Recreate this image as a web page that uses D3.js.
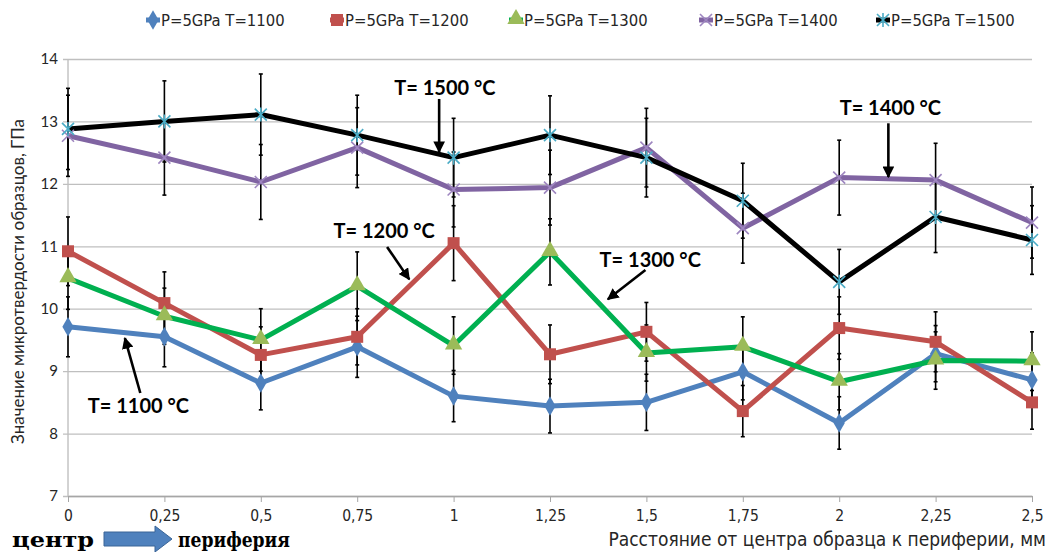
<!DOCTYPE html>
<html>
<head>
<meta charset="utf-8">
<script src="https://cdn.jsdelivr.net/npm/d3@7"></script>
<style>
  html, body { margin: 0; padding: 0; background: #fff; }
  svg { display: block; }
</style>
</head>
<body>
<div id="chart"></div>
<script>
// данные ----------------------------------------------------------------------
const categories = ['0', '0,25', '0,5', '0,75', '1', '1,25', '1,5', '1,75', '2', '2,25', '2,5'];
const seriesNames = ['P=5GPa T=1100', 'P=5GPa T=1200', 'P=5GPa T=1300', 'P=5GPa T=1400', 'P=5GPa T=1500'];
const t1100 = [9.71, 9.55, 8.81, 9.39, 8.60, 8.44, 8.50, 8.99, 8.17, 9.28, 8.86];
const t1200 = [10.92, 10.09, 9.26, 9.55, 11.05, 9.27, 9.63, 8.36, 9.69, 9.47, 8.50];
const t1300 = [10.49, 9.88, 9.50, 10.36, 9.41, 10.91, 9.29, 9.39, 8.83, 9.17, 9.16];
const t1400 = [12.77, 12.42, 12.03, 12.58, 11.91, 11.94, 12.58, 11.29, 12.10, 12.06, 11.38];
const t1500 = [12.88, 13.00, 13.11, 12.78, 12.42, 12.78, 12.42, 11.73, 10.43, 11.47, 11.10];
const err1100 = [0.48, 0.48, 0.43, 0.49, 0.41, 0.43, 0.45, 0.45, 0.42, 0.45, 0.43];
const err1200 = [0.55, 0.50, 0.45, 0.45, 0.60, 0.47, 0.47, 0.41, 0.50, 0.48, 0.43];
const err1300 = [0.50, 0.45, 0.50, 0.55, 0.46, 0.53, 0.45, 0.48, 0.45, 0.46, 0.47];
const err1400 = [0.65, 0.60, 0.60, 0.64, 0.60, 0.60, 0.63, 0.56, 0.60, 0.59, 0.57];
const err1500 = [0.65, 0.65, 0.65, 0.64, 0.63, 0.63, 0.63, 0.60, 0.52, 0.57, 0.55];
const yTicks = [7, 8, 9, 10, 11, 12, 13, 14];
// подписи: текст, центр (индекс категории, значение), начало и конец стрелки
const annoText = ['T= 1100 °C', 'T= 1200 °C', 'T= 1300 °C', 'T= 1400 °C', 'T= 1500 °C'];
const annoPos = [[0.73, 8.33], [3.28, 11.13], [6.04, 10.67], [8.53, 13.10], [3.91, 13.42]];
const arrowFrom = [[0.75, 8.65], [3.31, 10.99], [5.99, 10.62], [8.51, 12.97], [3.85, 13.36]];
const arrowTo = [[0.59, 9.53], [3.54, 10.47], [5.60, 10.15], [8.51, 12.11], [3.85, 12.51]];

// размеры ---------------------------------------------------------------------
const width = 1053, height = 552;
const margin = { top: 59, bottom: 56, left: 68, right: 21 };

const svg = d3.select('#chart').append('svg')
  .attr('width', width)
  .attr('height', height);

const x = d3.scalePoint().domain(categories).range([margin.left, width - margin.right]);
const xi = d3.scaleLinear().domain([0, categories.length - 1]).range([margin.left, width - margin.right]);
const y = d3.scaleLinear().domain([7, 14]).range([height - margin.bottom, margin.top]);

const series = [
  { name: seriesNames[0], values: t1100, err: err1100, line: '#4F81BD', mark: '#4F81BD', sym: 'diamond' },
  { name: seriesNames[1], values: t1200, err: err1200, line: '#C0504D', mark: '#C0504D', sym: 'square' },
  { name: seriesNames[2], values: t1300, err: err1300, line: '#00B050', mark: '#9BBB59', sym: 'triangle' },
  { name: seriesNames[3], values: t1400, err: err1400, line: '#8064A2', mark: '#9E86C0', sym: 'cross' },
  { name: seriesNames[4], values: t1500, err: err1500, line: '#000000', mark: '#4BACC6', sym: 'star' }
];

// сетка -----------------------------------------------------------------------
const axisY = d3.axisLeft(y).tickValues(yTicks).tickFormat(d3.format('d'));
const gY = svg.append('g')
  .attr('transform', 'translate(' + (margin.left) + ',0)')
  .call(axisY);
gY.select('.domain').attr('stroke', '#A6A6A6').attr('d', 'M0,' + y(14) + 'V' + y(7));
gY.selectAll('.tick line')
  .attr('x1', -5)
  .attr('x2', width - margin.left - margin.right)
  .attr('stroke', '#BFBFBF')
  .attr('stroke-width', 1.3);
gY.selectAll('.tick text')
  .attr('x', -10)
  .attr('font-family', 'Lato, "Open Sans", sans-serif')
  .attr('font-size', '15px')
  .attr('fill', '#262626');

const axisX = d3.axisBottom(x).tickSize(6).tickSizeOuter(0);
const gX = svg.append('g')
  .attr('transform', 'translate(0,' + y(7) + ')')
  .call(axisX);
gX.select('.domain').attr('stroke', '#A6A6A6').attr('stroke-width', 1.3);
gX.selectAll('.tick line').attr('stroke', '#A6A6A6');
gX.selectAll('.tick text')
  .attr('y', 14)
  .attr('font-family', '"Liberation Sans Narrow", "DejaVu Sans Condensed", sans-serif')
  .attr('font-size', '15.5px')
  .attr('fill', '#262626');

// планки погрешностей ---------------------------------------------------------
const errG = svg.append('g');
series.forEach(s => {
  s.values.forEach((v, i) => {
    const cx = x(categories[i]);
    errG.append('line')
      .attr('x1', cx).attr('x2', cx)
      .attr('y1', y(v + s.err[i])).attr('y2', y(v - s.err[i]))
      .attr('stroke', '#000').attr('stroke-width', 1.6);
    [v + s.err[i], v - s.err[i]].forEach(e => {
      errG.append('line')
        .attr('x1', cx - 2).attr('x2', cx + 2)
        .attr('y1', y(e)).attr('y2', y(e))
        .attr('stroke', '#000').attr('stroke-width', 1.6);
    });
  });
});

// линии -----------------------------------------------------------------------
const line = d3.line()
  .x((d, i) => x(categories[i]))
  .y(d => y(d));

series.forEach(s => {
  svg.append('path')
    .datum(s.values)
    .attr('d', line)
    .attr('fill', 'none')
    .attr('stroke', s.line)
    .attr('stroke-width', 5)
    .attr('stroke-linejoin', 'round');
});

// маркеры ---------------------------------------------------------------------
const drawMarker = (g, s, cx, cy) => {
  if (s.sym === 'diamond') {
    g.append('path').attr('d', d3.symbol(d3.symbolDiamond, 110)())
      .attr('transform', 'translate(' + cx + ',' + cy + ')').attr('fill', s.mark);
  } else if (s.sym === 'square') {
    g.append('rect').attr('x', cx - 6).attr('y', cy - 6).attr('width', 12).attr('height', 12).attr('fill', s.mark);
  } else if (s.sym === 'triangle') {
    g.append('path').attr('d', d3.symbol(d3.symbolTriangle, 130)())
      .attr('transform', 'translate(' + cx + ',' + (cy - 1) + ')').attr('fill', s.mark);
  } else if (s.sym === 'cross') {
    g.append('path').attr('d', 'M-6,-6L6,6M-6,6L6,-6')
      .attr('transform', 'translate(' + cx + ',' + cy + ')')
      .attr('stroke', s.mark).attr('stroke-width', 1.6).attr('fill', 'none');
  } else {
    g.append('path').attr('d', 'M-6,-6L6,6M-6,6L6,-6M0,-7L0,7')
      .attr('transform', 'translate(' + cx + ',' + cy + ')')
      .attr('stroke', s.mark).attr('stroke-width', 1.6).attr('fill', 'none');
  }
};
const markG = svg.append('g');
series.forEach(s => {
  s.values.forEach((v, i) => drawMarker(markG, s, x(categories[i]), y(v)));
});

// легенда ---------------------------------------------------------------------
const legendX = [146, 330, 509, 699, 876];
const legG = svg.append('g');
series.forEach((s, i) => {
  const lx = legendX[i], ly = 20;
  legG.append('line')
    .attr('x1', lx).attr('x2', lx + 14).attr('y1', ly).attr('y2', ly)
    .attr('stroke', s.line).attr('stroke-width', 5);
  drawMarker(legG, s, lx + 7, ly);
  legG.append('text')
    .attr('x', lx + 15).attr('y', ly + 6)
    .text(s.name)
    .attr('font-family', '"Liberation Sans Narrow", "DejaVu Sans Condensed", sans-serif')
    .attr('font-size', '16.5px')
    .attr('fill', '#262626');
});

// подписи со стрелками -------------------------------------------------------
svg.append('defs').append('marker')
  .attr('id', 'arr')
  .attr('viewBox', '0 0 10 10')
  .attr('refX', 9).attr('refY', 5)
  .attr('markerWidth', 4.5).attr('markerHeight', 4.5)
  .attr('orient', 'auto')
  .append('path').attr('d', 'M0,0L10,5L0,10Z').attr('fill', '#000');

annoText.forEach((t, i) => {
  svg.append('text')
    .attr('x', xi(annoPos[i][0])).attr('y', y(annoPos[i][1]))
    .attr('text-anchor', 'middle')
    .text(t)
    .attr('font-family', 'Lato, "Open Sans", sans-serif')
    .attr('font-weight', 'bold')
    .attr('font-size', '20px')
    .attr('fill', '#000');
  svg.append('line')
    .attr('x1', xi(arrowFrom[i][0])).attr('y1', y(arrowFrom[i][1]))
    .attr('x2', xi(arrowTo[i][0])).attr('y2', y(arrowTo[i][1]))
    .attr('stroke', '#000').attr('stroke-width', 2.6)
    .attr('marker-end', 'url(#arr)');
});

// подписи осей ----------------------------------------------------------------
svg.append('text')
  .attr('transform', 'translate(24,' + ((y(7) + y(14)) / 2 + 4) + ') rotate(-90)')
  .attr('text-anchor', 'middle')
  .text('Значение микротвердости образцов, ГПа')
  .attr('font-family', 'Lato, "Open Sans", sans-serif')
  .attr('font-size', '17px')
  .attr('fill', '#262626');

svg.append('text')
  .attr('x', 1046).attr('y', 546)
  .attr('text-anchor', 'end')
  .text('Расстояние от центра образца к периферии, мм')
  .attr('font-family', '"Liberation Sans Narrow", "DejaVu Sans Condensed", sans-serif')
  .attr('font-size', '19px')
  .attr('fill', '#262626');

// центр → периферия ----------------------------------------------------------
svg.append('text')
  .attr('x', 12).attr('y', 547)
  .text('центр')
  .attr('textLength', 82)
  .attr('lengthAdjust', 'spacingAndGlyphs')
  .attr('font-family', '"DejaVu Serif Condensed", "Liberation Serif", serif')
  .attr('font-weight', 'bold')
  .attr('font-size', '21px')
  .attr('fill', '#000');
svg.append('path')
  .attr('d', 'M104,532H155V526L172,539L155,552V546H104Z')
  .attr('fill', '#4F81BD')
  .attr('stroke', '#3A6597')
  .attr('stroke-width', 1);
svg.append('text')
  .attr('x', 178).attr('y', 547)
  .text('периферия')
  .attr('textLength', 112)
  .attr('lengthAdjust', 'spacingAndGlyphs')
  .attr('font-family', '"DejaVu Serif Condensed", "Liberation Serif", serif')
  .attr('font-weight', 'bold')
  .attr('font-size', '21px')
  .attr('fill', '#000');
</script>
</body>
</html>
